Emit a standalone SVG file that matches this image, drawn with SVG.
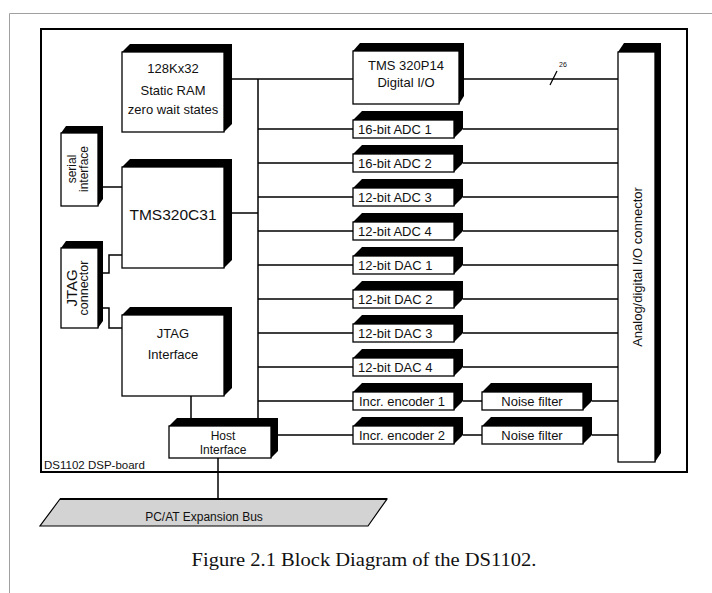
<svg xmlns="http://www.w3.org/2000/svg" xmlns:xlink="http://www.w3.org/1999/xlink" width="712" height="593" viewBox="0 0 712 593">
<style>
.sh{fill:#000}
.fr{fill:#fff;stroke:#000;stroke-width:1.3}
.t{font-family:"Liberation Sans",Arial,sans-serif;font-size:13px;fill:#111}
.m{text-anchor:middle}
.ln{stroke:#000;stroke-width:1.5;fill:none}
</style>
<defs>
<g id="sb">
<polygon class="sh" points="0,0 9,-9 110,-9 110,9 101,18 101,0"/>
<rect class="fr" x="0" y="0" width="101" height="18"/>
</g>
</defs>
<rect width="712" height="593" fill="#fff"/>
<path d="M9.5,593 V13.5 H712" fill="none" stroke="#a0a0a0" stroke-width="1"/>
<rect x="41" y="29" width="646" height="443" fill="none" stroke="#000" stroke-width="2"/>
<text class="t" x="44" y="469" style="font-size:11.5px">DS1102 DSP-board</text>

<g id="connectors" class="ln">
<path d="M224,79 H353"/>
<path d="M459,79 H618"/>
<path d="M550,85 L557,71" stroke-width="1.2"/>
<path d="M258,79 V418"/>
<path d="M224,213 H258"/>
<path d="M98,187 H122"/>
<path d="M98,273 H109 V255 H122"/>
<path d="M98,308 H109 V328 H122"/>
<path d="M191,396 V418"/>
<path d="M218,458 V499"/>
<path d="M258,129 H353 M463,129 H618"/>
<path d="M258,163 H353 M463,163 H618"/>
<path d="M258,197 H353 M463,197 H618"/>
<path d="M258,231 H353 M463,231 H618"/>
<path d="M258,265 H353 M463,265 H618"/>
<path d="M258,299 H353 M463,299 H618"/>
<path d="M258,333 H353 M463,333 H618"/>
<path d="M258,367 H353 M463,367 H618"/>
<path d="M258,401 H353 M463,401 H482 M592,401 H618"/>
<path d="M278,435 H353 M463,435 H482 M592,435 H618"/>
</g>
<text class="t" x="559" y="67" style="font-size:7px">26</text>

<g id="ram">
<polygon class="sh" points="122,52 130,44 232,44 232,124 224,132 224,52"/>
<rect class="fr" x="122" y="52" width="102" height="80"/>
<text class="t m" x="173" y="73">128Kx32</text>
<text class="t m" x="173" y="95">Static RAM</text>
<text class="t m" x="173" y="114">zero wait states</text>
</g>
<g id="tms320c31">
<polygon class="sh" points="122,167 130,159 232,159 232,260 224,268 224,167"/>
<rect class="fr" x="122" y="167" width="102" height="101"/>
<text class="t m" x="173" y="220" style="font-size:15.5px">TMS320C31</text>
</g>
<g id="jtag-interface">
<polygon class="sh" points="122,315 130,307 232,307 232,388 224,396 224,315"/>
<rect class="fr" x="122" y="315" width="102" height="81"/>
<text class="t m" x="173" y="338">JTAG</text>
<text class="t m" x="173" y="359">Interface</text>
</g>
<g id="host-interface">
<polygon class="sh" points="169,426 177,418 278,418 278,451 271,458 271,426"/>
<rect class="fr" x="169" y="426" width="102" height="32"/>
<text class="t m" x="223" y="440" style="font-size:12px">Host</text>
<text class="t m" x="223" y="454" style="font-size:12px">Interface</text>
</g>
<g id="serial-interface">
<polygon class="sh" points="61,133 66,126 103,126 103,199 98,206 98,133"/>
<rect class="fr" x="61" y="133" width="37" height="73"/>
<text class="t m" transform="translate(76,169) rotate(-90)" style="font-size:12px">serial</text>
<text class="t m" transform="translate(88,169) rotate(-90)" style="font-size:12px">interface</text>
</g>
<g id="jtag-connector">
<polygon class="sh" points="61,248 66,241 103,241 103,321 98,328 98,248"/>
<rect class="fr" x="61" y="248" width="37" height="80"/>
<text class="t m" transform="translate(77,288) rotate(-90)" style="font-size:15px">JTAG</text>
<text class="t m" transform="translate(88,288) rotate(-90)" style="font-size:12.5px">connector</text>
</g>
<g id="tms320p14">
<polygon class="sh" points="353,51 360,43 464,43 464,96 459,104 459,51"/>
<rect class="fr" x="353" y="51" width="106" height="53"/>
<text class="t m" x="406" y="70">TMS 320P14</text>
<text class="t m" x="406" y="87">Digital I/O</text>
</g>
<g id="adc1" transform="translate(353,120)"><use xlink:href="#sb"/><text class="t" x="5" y="14">16-bit ADC 1</text></g>
<g id="adc2" transform="translate(353,154)"><use xlink:href="#sb"/><text class="t" x="5" y="14">16-bit ADC 2</text></g>
<g id="adc3" transform="translate(353,188)"><use xlink:href="#sb"/><text class="t" x="5" y="14">12-bit ADC 3</text></g>
<g id="adc4" transform="translate(353,222)"><use xlink:href="#sb"/><text class="t" x="5" y="14">12-bit ADC 4</text></g>
<g id="dac1" transform="translate(353,256)"><use xlink:href="#sb"/><text class="t" x="5" y="14">12-bit DAC 1</text></g>
<g id="dac2" transform="translate(353,290)"><use xlink:href="#sb"/><text class="t" x="5" y="14">12-bit DAC 2</text></g>
<g id="dac3" transform="translate(353,324)"><use xlink:href="#sb"/><text class="t" x="5" y="14">12-bit DAC 3</text></g>
<g id="dac4" transform="translate(353,358)"><use xlink:href="#sb"/><text class="t" x="5" y="14">12-bit DAC 4</text></g>
<g id="enc1" transform="translate(353,392)"><use xlink:href="#sb"/><text class="t" x="6" y="14">Incr. encoder 1</text></g>
<g id="enc2" transform="translate(353,426)"><use xlink:href="#sb"/><text class="t" x="6" y="14">Incr. encoder 2</text></g>
<g id="noise1" transform="translate(482,392)"><use xlink:href="#sb"/><text class="t m" x="50" y="14">Noise filter</text></g>
<g id="noise2" transform="translate(482,426)"><use xlink:href="#sb"/><text class="t m" x="50" y="14">Noise filter</text></g>
<g id="io-connector">
<polygon class="sh" points="618,52 624,43 661,43 661,453 655,462 655,52"/>
<rect class="fr" x="618" y="52" width="37" height="410"/>
<text class="t m" transform="translate(642,267) rotate(-90)">Analog/digital I/O connector</text>
</g>
<g id="pcat-bus">
<polygon points="60,499 387,499 368,526 40,526" fill="#d3d3d3" stroke="#000" stroke-width="1.2"/>
<path d="M60,499 H387" stroke="#000" stroke-width="2"/>
<text class="t m" x="204" y="521" style="font-size:12px">PC/AT Expansion Bus</text>
</g>
<text x="364" y="566" text-anchor="middle" textLength="345" lengthAdjust="spacingAndGlyphs" style="font-family:'Liberation Serif','Times New Roman',serif;font-size:19px;fill:#111">Figure 2.1 Block Diagram of the DS1102.</text>
</svg>
